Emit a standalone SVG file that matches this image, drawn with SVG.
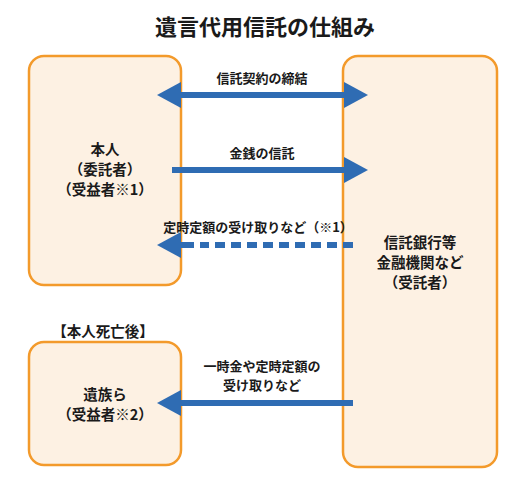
<svg xmlns="http://www.w3.org/2000/svg" width="530" height="477" viewBox="0 0 530 477">
<defs>
<style>
.box{fill:#fdf1e3;stroke:#f39a2b;stroke-width:2.5}
.t{font-family:"Noto Sans CJK JP","Noto Sans",sans-serif;font-weight:bold;fill:#1a1a1a;text-anchor:middle}
.lbl{font-size:13px}
.nt{font-size:14.5px}
.ln{stroke:#2f6cb3;stroke-width:6;fill:none}
.hd{fill:#2f6cb3}
</style>
</defs>
<rect width="530" height="477" fill="#ffffff"/>
<text class="t" x="265" y="35" font-size="22">遺言代用信託の仕組み</text>
<g id="honnin">
<rect class="box" x="29" y="56" width="152" height="229" rx="15"/>
<text class="t nt" x="105" y="155">本人</text>
<text class="t nt" x="105" y="175">（委託者）</text>
<text class="t nt" x="105" y="195">（受益者※1）</text>
</g>
<g id="jutaku">
<rect class="box" x="343" y="56" width="154" height="411" rx="15"/>
<text class="t nt" x="420" y="248">信託銀行等</text>
<text class="t nt" x="420" y="268">金融機関など</text>
<text class="t nt" x="420" y="288">（受託者）</text>
</g>
<g id="izoku">
<text class="t nt" x="103" y="337">【本人死亡後】</text>
<rect class="box" x="29" y="342" width="152" height="123" rx="15"/>
<text class="t nt" x="105" y="400">遺族ら</text>
<text class="t nt" x="105" y="420">（受益者※2）</text>
</g>
<g id="connectors">
<line class="ln" x1="178" y1="95" x2="346" y2="95"/>
<polygon class="hd" points="157,95 181,82 181,108"/>
<polygon class="hd" points="368,95 344,82 344,108"/>
<text class="t lbl" x="262" y="83">信託契約の締結</text>
<line class="ln" x1="172" y1="170" x2="346" y2="170"/>
<polygon class="hd" points="368,170 344,157 344,183"/>
<text class="t lbl" x="262" y="158">金銭の信託</text>
<line class="ln" x1="178" y1="245" x2="194" y2="245"/>
<line class="ln" x1="353" y1="245" x2="200" y2="245" stroke-dasharray="10 6"/>
<polygon class="hd" points="157,245 181,232 181,258"/>
<text class="t lbl" x="258" y="232">定時定額の受け取りなど（※1）</text>
<line class="ln" x1="353" y1="403" x2="178" y2="403"/>
<polygon class="hd" points="157,403 181,390 181,416"/>
<text class="t lbl" x="262" y="371">一時金や定時定額の</text>
<text class="t lbl" x="262" y="390">受け取りなど</text>
</g>
</svg>
